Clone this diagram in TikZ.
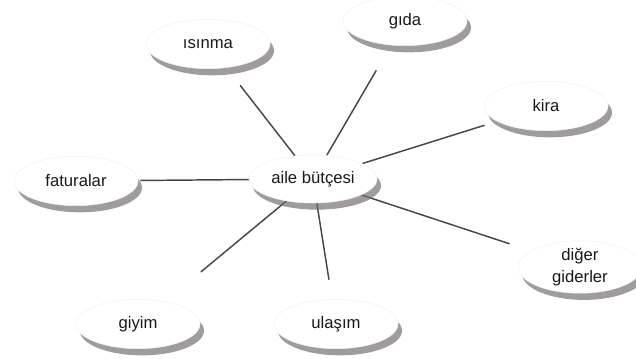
\documentclass[tikz,border=0pt]{standalone}
\usepackage{fontspec}
\setmainfont{Liberation Sans}
\usetikzlibrary{shapes.geometric,shadows,backgrounds}
\colorlet{budink}{black!90}
\definecolor{budshade}{RGB}{120,112,116}
\colorlet{budline}{black!72}
\tikzset{
  budbubble/.style={
    ellipse,
    fill=white,
    draw=black!5,
    minimum width=93pt,
    minimum height=37pt,
    inner sep=0pt,
    align=center,
    text=budink,
    font=\fontsize{12.5}{16}\selectfont,
    drop shadow={shadow xshift=3pt,shadow yshift=-5pt,fill=budshade,opacity=0.7}
  },
  budhub/.style={budbubble,minimum width=96pt,minimum height=36pt},
  budspoke/.style={line width=1.1pt,budline,line cap=round}
}
\begin{document}
\begin{tikzpicture}[x=0.75pt,y=0.75pt]
  \useasboundingbox (0,0) rectangle (636,358);
  \node[budhub] (budget) at (313,179) {aile bütçesi};
  \node[budbubble] (heating) at (208,314) {ısınma};
  \node[budbubble] (food) at (405,337) {gıda};
  \node[budbubble] (rent) at (546,252) {kira};
  \node[budbubble] (bills) at (76,177) {faturalar};
  \node[budbubble] (other) at (580,91) {diğer\\giderler};
  \node[budbubble] (clothes) at (138,34) {giyim};
  \node[budbubble] (transport) at (336,34) {ulaşım};

  % spokes from the hub
  \begin{scope}[on background layer]
    \foreach \target/\gap in {heating/17pt,food/22pt,rent/10pt,bills/2pt,
                              other/17pt,clothes/35pt,transport/15pt}
      \draw[budspoke,shorten >=\gap] (budget) -- (\target);
  \end{scope}
\end{tikzpicture}
\end{document}
